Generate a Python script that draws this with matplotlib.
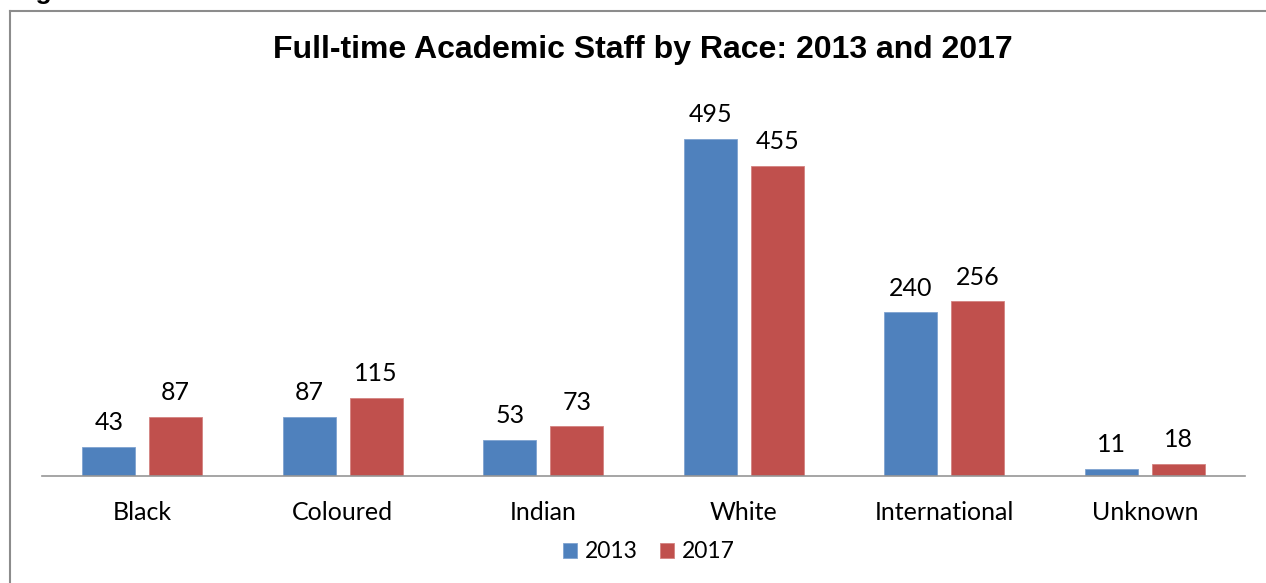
import matplotlib.pyplot as plt
from matplotlib.lines import Line2D
import numpy as np

categories = ["Black", "Coloured", "Indian", "White", "International", "Unknown"]
staff_2013 = [43, 87, 53, 495, 240, 11]
staff_2017 = [87, 115, 73, 455, 256, 18]
series_names = ["2013", "2017"]

blue = "#4F81BD"
red = "#C0504D"

plt.rcParams['font.family'] = ['Lato', 'DejaVu Sans']

fig = plt.figure(figsize=(12.66, 5.83), dpi=100)

# frame around the chart (left and top edges visible)
fig.add_artist(Line2D([9.5/1266, 9.5/1266], [0, 1 - 10.5/583], transform=fig.transFigure,
                      color="#8c8c8c", lw=1.5))
fig.add_artist(Line2D([9.5/1266, 1], [1 - 10.5/583, 1 - 10.5/583], transform=fig.transFigure,
                      color="#8c8c8c", lw=1.5))
# cut-off caption above the frame
fig.text(12/1266, 1 + 1/583, "Figure", fontsize=19, fontweight="bold",
         family="Liberation Sans", va="baseline", ha="left")

ax = fig.add_axes([42/1266, 1 - 476/583, 1203/1266, (476 - 67)/583])

x = np.arange(len(categories))
w = 0.264
off = 0.167
b1 = ax.bar(x - off, staff_2013, w, color=blue, edgecolor="#7fa3d0", linewidth=0.6, label=series_names[0])
b2 = ax.bar(x + off, staff_2017, w, color=red, edgecolor="#d48280", linewidth=0.6, label=series_names[1])

for bars in (b1, b2):
    for rect in bars:
        ax.annotate(f"{int(rect.get_height())}",
                    (rect.get_x() + rect.get_width() / 2, rect.get_height()),
                    xytext=(0, 9), textcoords="offset points",
                    ha="center", va="bottom", fontsize=18)

ax.set_xlim(-0.5, len(categories) - 0.5)
ax.set_ylim(0, 600)
ax.set_xticks(x)
ax.set_xticklabels(categories, fontsize=18)
ax.tick_params(axis="x", length=0, pad=18)
ax.set_yticks([])
for s in ("top", "right", "left"):
    ax.spines[s].set_visible(False)
ax.spines["bottom"].set_color("#969696")
ax.spines["bottom"].set_linewidth(1.2)

fig.text(643/1266, 1 - 50/583, "Full-time Academic Staff by Race: 2013 and 2017",
         fontsize=23, fontweight="bold", family="Liberation Sans", ha="center", va="center")

ax.legend(loc="center", bbox_to_anchor=(649/1266, 1 - 552/583), bbox_transform=fig.transFigure,
          ncol=2, frameon=False, fontsize=16.5, handlelength=0.6, handleheight=0.6,
          handletextpad=0.35, columnspacing=1.0)

fig.savefig("out.png", dpi=100)
